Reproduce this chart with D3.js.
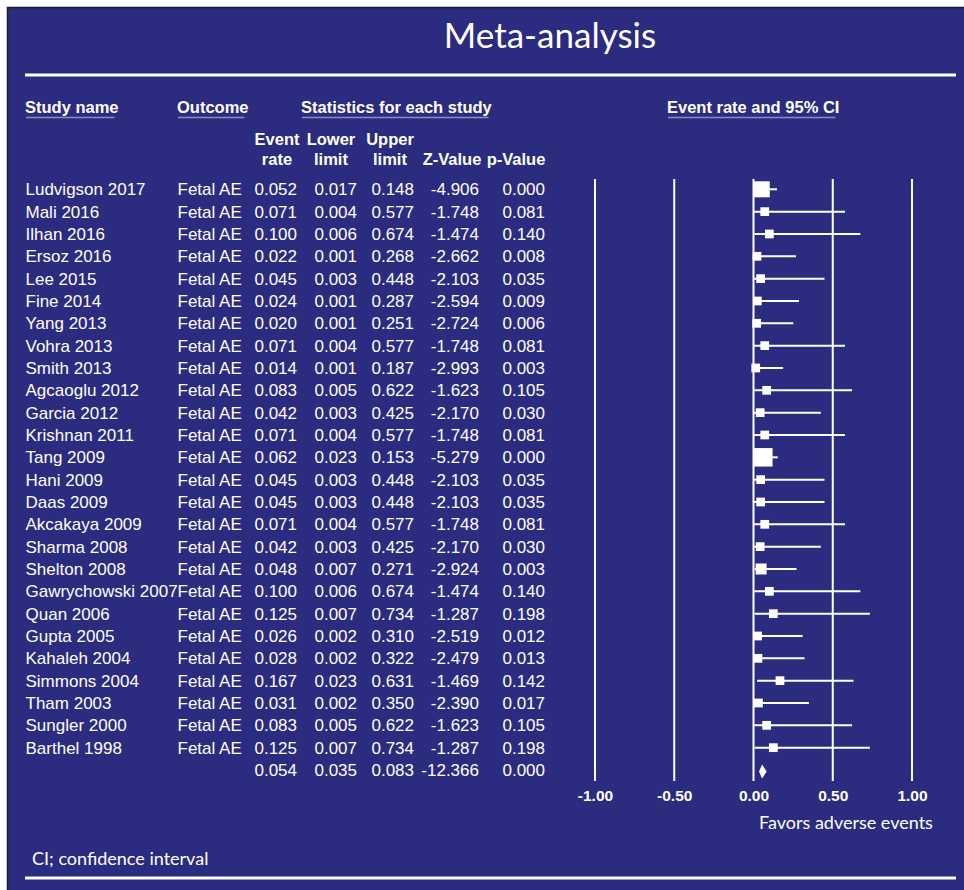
<!DOCTYPE html>
<html>
<head>
<meta charset="utf-8">
<title>Meta-analysis</title>
<script src="https://cdnjs.cloudflare.com/ajax/libs/d3/7.8.5/d3.min.js"></script>
<style>
  body { margin: 0; background: #ffffff; }
  svg { display: block; }
</style>
</head>
<body>
<div id="chart"></div>
<script>
// study rows
var studyNames = ["Ludvigson 2017", "Mali 2016", "Ilhan 2016", "Ersoz 2016", "Lee 2015",
    "Fine 2014", "Yang 2013", "Vohra 2013", "Smith 2013", "Agcaoglu 2012", "Garcia 2012",
    "Krishnan 2011", "Tang 2009", "Hani 2009", "Daas 2009", "Akcakaya 2009", "Sharma 2008",
    "Shelton 2008", "Gawrychowski 2007", "Quan 2006", "Gupta 2005", "Kahaleh 2004",
    "Simmons 2004", "Tham 2003", "Sungler 2000", "Barthel 1998"];
var outcomes = ["Fetal AE", "Fetal AE", "Fetal AE", "Fetal AE", "Fetal AE", "Fetal AE",
    "Fetal AE", "Fetal AE", "Fetal AE", "Fetal AE", "Fetal AE", "Fetal AE", "Fetal AE",
    "Fetal AE", "Fetal AE", "Fetal AE", "Fetal AE", "Fetal AE", "Fetal AE", "Fetal AE",
    "Fetal AE", "Fetal AE", "Fetal AE", "Fetal AE", "Fetal AE", "Fetal AE"];
var eventRate = [0.052, 0.071, 0.100, 0.022, 0.045, 0.024, 0.020, 0.071, 0.014, 0.083, 0.042,
    0.071, 0.062, 0.045, 0.045, 0.071, 0.042, 0.048, 0.100, 0.125, 0.026, 0.028, 0.167,
    0.031, 0.083, 0.125];
var lowerLimit = [0.017, 0.004, 0.006, 0.001, 0.003, 0.001, 0.001, 0.004, 0.001, 0.005, 0.003,
    0.004, 0.023, 0.003, 0.003, 0.004, 0.003, 0.007, 0.006, 0.007, 0.002, 0.002, 0.023,
    0.002, 0.005, 0.007];
var upperLimit = [0.148, 0.577, 0.674, 0.268, 0.448, 0.287, 0.251, 0.577, 0.187, 0.622, 0.425,
    0.577, 0.153, 0.448, 0.448, 0.577, 0.425, 0.271, 0.674, 0.734, 0.310, 0.322, 0.631,
    0.350, 0.622, 0.734];
var zValue = [-4.906, -1.748, -1.474, -2.662, -2.103, -2.594, -2.724, -1.748, -2.993, -1.623,
    -2.170, -1.748, -5.279, -2.103, -2.103, -1.748, -2.170, -2.924, -1.474, -1.287, -2.519,
    -2.479, -1.469, -2.390, -1.623, -1.287];
var pValue = [0.000, 0.081, 0.140, 0.008, 0.035, 0.009, 0.006, 0.081, 0.003, 0.105, 0.030,
    0.081, 0.000, 0.035, 0.035, 0.081, 0.030, 0.003, 0.140, 0.198, 0.012, 0.013, 0.142,
    0.017, 0.105, 0.198];
// relative weight (%) -> size of the square
var weights = [10.4, 3.1, 3.1, 3.1, 3.1, 3.1, 3.1, 3.1, 3.1, 3.1, 3.1, 3.1, 13.9, 3.1, 3.1,
    3.1, 3.1, 4.9, 3.1, 3.1, 3.1, 3.1, 3.1, 3.1, 3.1, 3.1];

// pooled result: event rate, lower, upper, z, p
var summaryStats = [0.054, 0.035, 0.083, -12.366, 0.000];

var xTicks = [-1, -0.5, 0, 0.5, 1];

function init() {
    var w = 964;
    var h = 890;
    var bg = "#2b2b80";
    var tableFont = "'Liberation Sans', Arial, Helvetica, sans-serif";
    var softFont = "Lato, 'Open Sans', 'Noto Sans', sans-serif";
    // plain hyphen for negatives, like the original printout
    var locale = d3.formatLocale({decimal: ".", thousands: ",", grouping: [3], currency: ["", ""], minus: "-"});
    var fmt = locale.format(".3f");

    var svg = d3.select("#chart")
                .append("svg")
                .attr("width", w)
                .attr("height", h);

    // panel + thin dark edge on top/left
    svg.append("rect")
        .attr("x", 8).attr("y", 8)
        .attr("width", w - 8).attr("height", h - 8)
        .attr("fill", bg);
    svg.append("path")
        .attr("d", "M7.5," + h + "V7.5H" + w)
        .attr("fill", "none")
        .attr("stroke", "#1c1c2a")
        .attr("stroke-width", 1.5);

    // title and rules
    svg.append("text")
        .attr("x", 550)
        .attr("y", 48)
        .attr("text-anchor", "middle")
        .attr("font-family", softFont)
        .attr("font-size", "35px")
        .attr("fill", "#fff")
        .text("Meta-analysis");

    svg.selectAll("line.rule")
        .data([75, 878])
        .enter()
        .append("line")
        .attr("class", "rule")
        .attr("x1", 25).attr("x2", 956)
        .attr("y1", function(d){ return d; })
        .attr("y2", function(d){ return d; })
        .attr("stroke", "#fff")
        .attr("stroke-width", 3);

    // column headers
    var headers = [
        {t: "Study name", x: 25},
        {t: "Outcome", x: 177},
        {t: "Statistics for each study", x: 301},
        {t: "Event rate and 95% CI", x: 667}
    ];
    var hdr = svg.selectAll("text.hdr")
        .data(headers)
        .enter()
        .append("text")
        .attr("class", "hdr")
        .attr("x", function(d){ return d.x; })
        .attr("y", 113)
        .attr("font-family", tableFont)
        .attr("font-weight", "bold")
        .attr("font-size", "16.5px")
        .attr("fill", "#fff")
        .text(function(d){ return d.t; });
    hdr.each(function(){
        var b = this.getBBox();
        svg.append("line")
            .attr("x1", b.x + 1).attr("x2", b.x + b.width - 4)
            .attr("y1", 117.5).attr("y2", 117.5)
            .attr("stroke", "#8c8cc4")
            .attr("stroke-width", 1.5);
    });

    // numeric columns: right edge of data, centre of header
    var cols = [
        {h1: "Event", h2: "rate", right: 297, mid: 277, vals: eventRate, s: summaryStats[0]},
        {h1: "Lower", h2: "limit", right: 357, mid: 331, vals: lowerLimit, s: summaryStats[1]},
        {h1: "Upper", h2: "limit", right: 414, mid: 390, vals: upperLimit, s: summaryStats[2]},
        {h1: "", h2: "Z-Value", right: 479, mid: 452, vals: zValue, s: summaryStats[3]},
        {h1: "", h2: "p-Value", right: 545, mid: 516, vals: pValue, s: summaryStats[4]}
    ];

    cols.forEach(function(c){
        [c.h1, c.h2].forEach(function(t, k){
            svg.append("text")
                .attr("x", c.mid)
                .attr("y", 145 + k * 20)
                .attr("text-anchor", "middle")
                .attr("font-family", tableFont)
                .attr("font-weight", "bold")
                .attr("font-size", "16.5px")
                .attr("fill", "#fff")
                .text(t);
        });
    });

    // row positions (26 studies + pooled row)
    var yScale = d3.scalePoint()
                    .domain(d3.range(studyNames.length + 1))
                    .range([189.3, 770]);

    var xScale = d3.scaleLinear()
                    .domain([-1, 1])
                    .range([595, 912]);

    var sizeScale = d3.scaleSqrt()
                    .domain([0, d3.max(weights)])
                    .range([0, 18.5]);

    var rows = svg.append("g")
        .attr("font-family", tableFont)
        .attr("font-size", "17px")
        .attr("fill", "#fff");

    rows.selectAll("text.name")
        .data(studyNames)
        .enter()
        .append("text")
        .attr("class", "name")
        .attr("x", 25.5)
        .attr("y", function(d, i){ return yScale(i) + 6; })
        .text(function(d){ return d; });

    rows.selectAll("text.outcome")
        .data(outcomes)
        .enter()
        .append("text")
        .attr("class", "outcome")
        .attr("x", 177.5)
        .attr("y", function(d, i){ return yScale(i) + 6; })
        .text(function(d){ return d; });

    cols.forEach(function(c, ci){
        rows.selectAll("text.c" + ci)
            .data(c.vals.concat([c.s]))
            .enter()
            .append("text")
            .attr("class", "c" + ci)
            .attr("x", c.right)
            .attr("y", function(d, i){ return yScale(i) + 6; })
            .attr("text-anchor", "end")
            .text(function(d){ return fmt(d); });
    });

    // forest plot reference lines
    svg.selectAll("line.grid")
        .data(xTicks)
        .enter()
        .append("line")
        .attr("class", "grid")
        .attr("x1", function(d){ return xScale(d); })
        .attr("x2", function(d){ return xScale(d); })
        .attr("y1", 179)
        .attr("y2", 781)
        .attr("stroke", "#fff")
        .attr("stroke-width", 2);

    var xAxis = d3.axisBottom(xScale)
                    .tickValues(xTicks)
                    .tickSize(0)
                    .tickPadding(0)
                    .tickFormat(locale.format(".2f"));
    var ax = svg.append("g")
        .attr("transform", "translate(0,790)")
        .call(xAxis);
    ax.select(".domain").remove();
    ax.selectAll("text")
        .attr("dy", "0.71em")
        .attr("fill", "#fff")
        .attr("font-family", tableFont)
        .attr("font-weight", "bold")
        .attr("font-size", "15.5px");

    // confidence intervals
    svg.selectAll("line.ci")
        .data(eventRate)
        .enter()
        .append("line")
        .attr("class", "ci")
        .attr("x1", function(d, i){ return xScale(lowerLimit[i]); })
        .attr("x2", function(d, i){ return xScale(upperLimit[i]); })
        .attr("y1", function(d, i){ return yScale(i); })
        .attr("y2", function(d, i){ return yScale(i); })
        .attr("stroke", "#fff")
        .attr("stroke-width", 2);

    svg.selectAll("rect.pt")
        .data(eventRate)
        .enter()
        .append("rect")
        .attr("class", "pt")
        .attr("x", function(d, i){ return xScale(d) - sizeScale(weights[i]) / 2; })
        .attr("y", function(d, i){ return yScale(i) - sizeScale(weights[i]) / 2; })
        .attr("width", function(d, i){ return sizeScale(weights[i]); })
        .attr("height", function(d, i){ return sizeScale(weights[i]); })
        .attr("fill", "#fff");

    // pooled diamond
    var yd = yScale(studyNames.length) + 1.5;
    svg.append("path")
        .attr("d", "M" + xScale(summaryStats[1]) + "," + yd +
                   "L" + xScale(summaryStats[0]) + "," + (yd - 7) +
                   "L" + xScale(summaryStats[2]) + "," + yd +
                   "L" + xScale(summaryStats[0]) + "," + (yd + 7) + "Z")
        .attr("fill", "#fff");

    svg.append("text")
        .attr("x", 846)
        .attr("y", 829)
        .attr("text-anchor", "middle")
        .attr("font-family", softFont)
        .attr("font-size", "18px")
        .attr("fill", "#fff")
        .text("Favors adverse events");

    svg.append("text")
        .attr("x", 32)
        .attr("y", 865)
        .attr("font-family", softFont)
        .attr("font-size", "18px")
        .attr("fill", "#fff")
        .text("CI; confidence interval");
}

window.onload = init;
</script>
</body>
</html>
